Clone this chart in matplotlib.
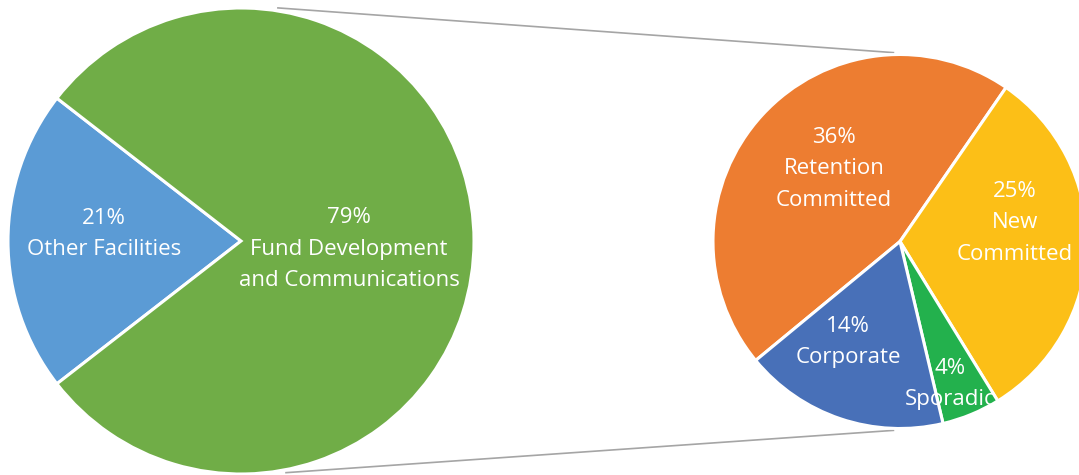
import numpy as np
import matplotlib.pyplot as plt

# main pie
main_labels = ['Other Facilities', 'Fund Development\nand Communications']
main_values = [21, 79]
main_colors = ['#5B9BD5', '#70AD47']

# breakdown of "Fund Development and Communications"
sub_labels = ['Retention\nCommitted', 'New\nCommitted', 'Sporadic', 'Corporate']
sub_values = [36, 25, 4, 14]
sub_colors = ['#ED7D31', '#FCBF17', '#23B14D', '#4870B8']

W, H = 1079, 475
fig = plt.figure(figsize=(W / 100, H / 100), dpi=100)
ax = fig.add_axes([0, 0, 1, 1])

# layout in pixels (y measured from the top of the image)
c1, r1 = (241, 241), 233
c2, r2 = (900, 241.5), 187


def to_data(p):
    return (p[0], H - p[1])


wp = dict(edgecolor='white', linewidth=2.2)
ax.pie(main_values, colors=main_colors, center=to_data(c1), radius=r1,
       startangle=180 - 360 * main_values[0] / sum(main_values) / 2,
       counterclock=True, wedgeprops=wp)
ax.pie(sub_values, colors=sub_colors, center=to_data(c2), radius=r2,
       startangle=219.5, counterclock=False, wedgeprops=wp)

# label positions (pixels)
main_pos = [(104, 234), (349, 249)]
sub_pos = [(834, 169), (1015, 223), (950, 384), (848, 342)]

txt = dict(color='white', ha='center', va='center', fontsize=16,
           family='Open Sans', linespacing=1.68)
for lab, v, p in zip(main_labels, main_values, main_pos):
    x, y = to_data(p)
    ax.text(x, y, f'{v}%\n{lab}', **txt)
for lab, v, p in zip(sub_labels, sub_values, sub_pos):
    x, y = to_data(p)
    ax.text(x, y, f'{v}%\n{lab}', **txt)

# connector lines between the two pies
for a1, a2 in [(81, 92), (-79, -92)]:
    p1 = (c1[0] + (r1 + 3) * np.cos(np.radians(a1)), H - c1[1] + (r1 + 3) * np.sin(np.radians(a1)))
    p2 = (c2[0] + (r2 + 2) * np.cos(np.radians(a2)), H - c2[1] + (r2 + 2) * np.sin(np.radians(a2)))
    ax.plot([p1[0], p2[0]], [p1[1], p2[1]], color='#A5A5A5', lw=1.2, zorder=0)

ax.set_xlim(0, W)
ax.set_ylim(0, H)
ax.set_aspect('equal')
ax.axis('off')

plt.savefig('out.png', dpi=100)
